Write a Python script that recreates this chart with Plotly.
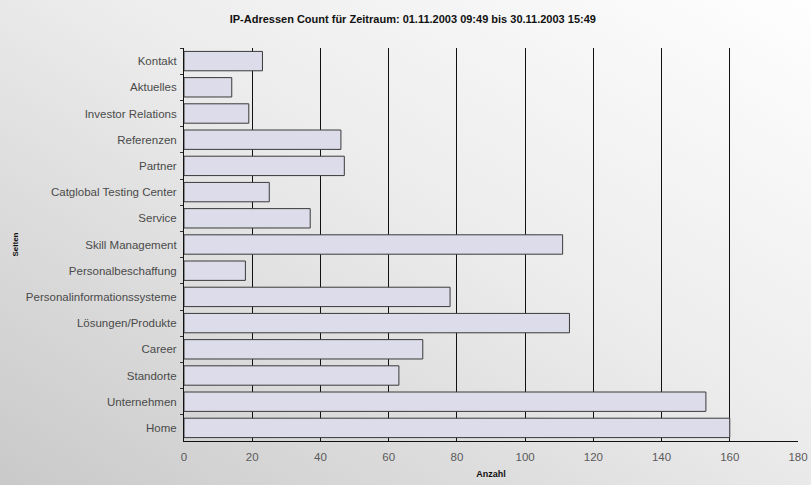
import base64
import plotly.graph_objects as go

categories = ["Kontakt", "Aktuelles", "Investor Relations", "Referenzen", "Partner",
              "Catglobal Testing Center", "Service", "Skill Management", "Personalbeschaffung",
              "Personalinformationssysteme", "Lösungen/Produkte", "Career", "Standorte",
              "Unternehmen", "Home"]
counts = [23, 14, 19, 46, 47, 25, 37, 111, 18, 78, 113, 70, 63, 153, 160]
x_ticks = [0, 20, 40, 60, 80, 100, 120, 140, 160, 180]

W, H = 811, 485
ML, MR, MT, MB = 184, 13, 48, 44
PW, PH = W - ML - MR, H - MT - MB
EXT = 12

svg = ('<svg xmlns="http://www.w3.org/2000/svg" width="835" height="509" viewBox="0 0 835 509" '
       'preserveAspectRatio="none"><defs><linearGradient id="g" x1="0" y1="1" x2="1" y2="0">'
       '<stop offset="0" stop-color="#c8c8c8"/><stop offset="0.55" stop-color="#ececec"/>'
       '<stop offset="1" stop-color="#ffffff"/></linearGradient></defs>'
       '<rect width="835" height="509" fill="url(#g)"/></svg>')
src = "data:image/svg+xml;base64," + base64.b64encode(svg.encode()).decode()

fig = go.Figure(go.Bar(
    y=categories, x=counts, orientation="h",
    marker=dict(color="#dcdcea", line=dict(color="#3a3a3a", width=1)),
    width=0.74,
))

fig.update_layout(
    width=W, height=H,
    margin=dict(l=ML, r=MR, t=MT, b=MB, pad=0, autoexpand=False),
    paper_bgcolor="#e8e8e8", plot_bgcolor="rgba(0,0,0,0)",
    font=dict(family="Liberation Sans, Arial, sans-serif", size=11, color="#444"),
    title=dict(text="<b>IP-Adressen Count für Zeitraum: 01.11.2003 09:49 bis 30.11.2003 15:49</b>",
               x=0.509, xref="container", xanchor="center", y=1 - 19 / H, yanchor="middle",
               font=dict(size=11, color="#111")),
    showlegend=False,
    images=[dict(source=src, xref="paper", yref="paper",
                 x=-(ML + EXT) / PW, y=1 + (MT + EXT) / PH,
                 sizex=(W + 2 * EXT) / PW, sizey=(H + 2 * EXT) / PH,
                 xanchor="left", yanchor="top", sizing="stretch", layer="below")],
    xaxis=dict(range=[0, 180], tickvals=x_ticks, showgrid=True, gridcolor="#111", gridwidth=1,
               zeroline=False, showline=True, linecolor="#111", linewidth=1, automargin=False,
               ticks="", tickfont=dict(size=11.5, color="#5a5a5a"), ticklabelstandoff=5,
               title=dict(text="<b>Anzahl</b>", font=dict(size=9, color="#111"), standoff=8)),
    yaxis=dict(autorange="reversed", showgrid=False, showline=True, linecolor="#111", linewidth=1,
               automargin=False,
               ticks="outside", ticklen=3, tickcolor="#333", tickson="boundaries",
               tickfont=dict(size=11.5, color="#4a4a4a"), ticklabelstandoff=4,
               title=dict(text="<b>Seiten</b>", font=dict(size=8, color="#111"), standoff=6)),
)

fig.write_html("out.html", config={"displayModeBar": False},
               post_script="document.body.style.margin='0';document.body.style.overflow='hidden';")
